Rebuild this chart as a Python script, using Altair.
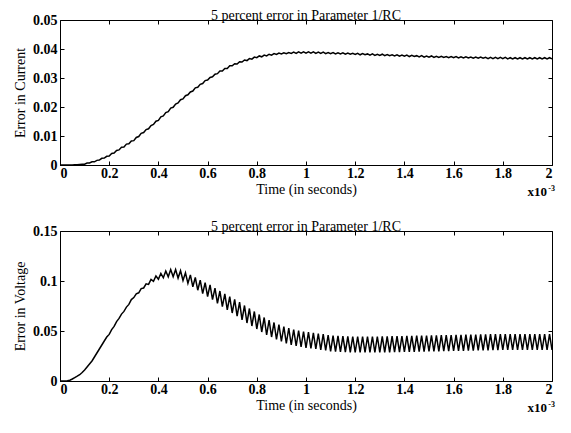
import altair as alt
import pandas as pd

# sample times in milliseconds (x10^-3 s), every 0.01 ms
t_ms = [round(0.01 * k, 2) for k in range(201)]

# error in current, in units of 1e-4
current_err_1e4 = [
    0, 0, 0, 0, 0, 0, 1, 1, 2, 3,
    3, 7, 7, 11, 11, 16, 17, 23, 24, 30,
    31, 40, 41, 50, 52, 61, 62, 72, 73, 83,
    84, 95, 98, 109, 112, 122, 125, 136, 140, 151,
    154, 166, 169, 181, 184, 196, 199, 210, 214, 225,
    228, 239, 242, 252, 255, 266, 268, 278, 281, 291,
    293, 302, 304, 313, 315, 324, 324, 333, 333, 342,
    342, 349, 348, 356, 355, 362, 360, 367, 365, 372,
    370, 376, 373, 379, 376, 382, 379, 384, 381, 386,
    383, 387, 384, 388, 385, 389, 385, 390, 386, 390,
    386, 390, 386, 390, 385, 389, 385, 389, 384, 388,
    384, 388, 383, 387, 383, 387, 382, 386, 382, 385,
    381, 385, 380, 384, 380, 383, 379, 383, 378, 382,
    378, 382, 377, 381, 377, 380, 376, 380, 375, 379,
    375, 379, 374, 378, 374, 377, 373, 377, 372, 376,
    372, 376, 371, 375, 371, 375, 371, 374, 370, 374,
    370, 374, 369, 373, 369, 373, 369, 372, 368, 372,
    368, 372, 368, 371, 367, 371, 367, 371, 367, 371,
    367, 371, 366, 370, 366, 370, 366, 370, 366, 370,
    366, 370, 366, 370, 366, 370, 366, 370, 366, 370,
    366,
]

# error in voltage, in units of 1e-3
voltage_err_1e3 = [
    0, 0, 0, 0.2, 0.8, 2.0, 3.4, 4.8, 6.3, 8.5,
    11, 14, 17, 20, 24, 28, 32, 36, 40, 44,
    46.6, 51.4, 54.6, 59.4, 62.6, 66.9, 69.6, 73.9, 76.6, 81.4,
    83.4, 87.2, 88.2, 92.4, 93, 97.2, 96.6, 101.6, 99.7, 105,
    101.8, 107.5, 103.2, 110, 104.2, 111.5, 104.3, 111.5, 102.9, 110.3,
    100.5, 108.2, 97.6, 106.1, 94.2, 103.5, 90.8, 100.9, 87.4, 98.3,
    84.5, 96.1, 81.3, 92.8, 77.6, 90, 74.4, 87.2, 71.2, 84.4,
    68, 81.6, 64.8, 78.8, 61.1, 75.5, 58, 72.5, 55, 69.5,
    52, 66.5, 49, 63.5, 46, 61, 44, 58.5, 41.5, 56.5,
    39.5, 54.5, 37.5, 53, 36, 51.5, 35, 50.5, 34, 49.5,
    33, 48.8, 32.5, 48.2, 32, 47.5, 31.2, 47, 30.5, 46,
    29.5, 45.4, 29.3, 45.2, 29, 44.9, 28.8, 44.7, 28.6, 44.5,
    28.5, 44.5, 28.5, 44.5, 28.5, 44.5, 28.5, 44.5, 28.5, 44.5,
    28.5, 44.6, 28.6, 44.7, 28.7, 44.8, 28.8, 44.9, 28.9, 45,
    29, 45.1, 29.1, 45.2, 29.2, 45.3, 29.3, 45.4, 29.4, 45.5,
    29.5, 45.6, 29.6, 45.7, 29.7, 45.8, 29.8, 45.9, 29.9, 46,
    30, 46.1, 30.1, 46.2, 30.2, 46.3, 30.3, 46.4, 30.4, 46.5,
    30.5, 46.6, 30.6, 46.7, 30.7, 46.8, 30.8, 46.9, 30.9, 47,
    31, 47, 31, 47, 31, 47, 31, 47, 31, 47,
    31, 47, 31, 47, 31, 47, 31, 47, 31, 47,
    31,
]

x_ticks = [0, 0.2, 0.4, 0.6, 0.8, 1.0, 1.2, 1.4, 1.6, 1.8, 2.0]
current_ticks = [0, 0.01, 0.02, 0.03, 0.04, 0.05]
voltage_ticks = [0, 0.05, 0.1, 0.15]

title_text = "5 percent error in Parameter 1/RC"
x_title = "Time (in seconds)"

W = 492
SERIF = "Liberation Serif"

df_cur = pd.DataFrame({"t": t_ms, "v": [v * 1e-4 for v in current_err_1e4]})
df_vol = pd.DataFrame({"t": t_ms, "v": [v * 1e-3 for v in voltage_err_1e3]})

INWARD = {"expr": "-4"}


def panel(df, y_title, y_domain, y_ticks, H):
    xs = alt.Scale(domain=[0, 2], nice=False, zero=False)
    ys = alt.Scale(domain=y_domain, nice=False, zero=False)
    main = alt.Chart(df).mark_line(color="black", strokeWidth=1.5).encode(
        x=alt.X("t:Q", scale=xs, axis=alt.Axis(
            values=x_ticks, format=".1~f", title=x_title, orient="bottom",
            tickSize=INWARD, labelPadding=5, titlePadding=2, domain=False,
            grid=False)),
        y=alt.Y("v:Q", scale=ys, axis=alt.Axis(
            values=y_ticks, format=".2~f", title=y_title, orient="left",
            tickSize=INWARD, labelPadding=7, titlePadding=5, domain=False,
            grid=False)),
    )
    twin = alt.Chart(df).mark_line(strokeOpacity=0).encode(
        x=alt.X("t:Q", scale=xs, axis=alt.Axis(
            values=x_ticks, orient="top", labels=False, title=None,
            tickSize=INWARD, domain=False, grid=False)),
        y=alt.Y("v:Q", scale=ys, axis=alt.Axis(
            values=y_ticks, orient="right", labels=False, title=None,
            tickSize=INWARD, domain=False, grid=False)),
    )
    base10 = alt.Chart(pd.DataFrame({"s": ["x10"]})).mark_text(
        font=SERIF, fontSize=13, fontWeight="bold", align="right",
        baseline="alphabetic", color="black", dx=-5
    ).encode(x=alt.value(W), y=alt.value(H + 31), text="s:N")
    expo = alt.Chart(pd.DataFrame({"s": ["-3"]})).mark_text(
        font=SERIF, fontSize=8, fontWeight="bold", align="right",
        baseline="alphabetic", color="black", dx=3
    ).encode(x=alt.value(W), y=alt.value(H + 26), text="s:N")
    return alt.layer(main, twin, base10, expo).resolve_axis(
        x="independent", y="independent"
    ).properties(
        width=W, height=H,
        title=alt.TitleParams(title_text, font=SERIF, fontSize=14,
                              fontWeight="normal", offset=-10, color="black"),
    )


top = panel(df_cur, "Error in Current", [0, 0.05], current_ticks, 145)
bottom = panel(df_vol, "Error in Voltage", [0, 0.15], voltage_ticks, 150)

chart = alt.vconcat(top, bottom, spacing=19).properties(
    padding={"left": 5, "top": 0, "right": 5, "bottom": 2},
    background="white",
).configure_view(stroke="black", strokeWidth=1).configure_axis(
    labelFont=SERIF, labelFontSize=14, labelFontWeight="bold",
    labelColor="black", titleFont=SERIF, titleFontSize=14,
    titleFontWeight="normal", titleColor="black", tickColor="black",
    tickWidth=1,
)

chart.save("out.html", embed_options={"renderer": "svg", "actions": False})
